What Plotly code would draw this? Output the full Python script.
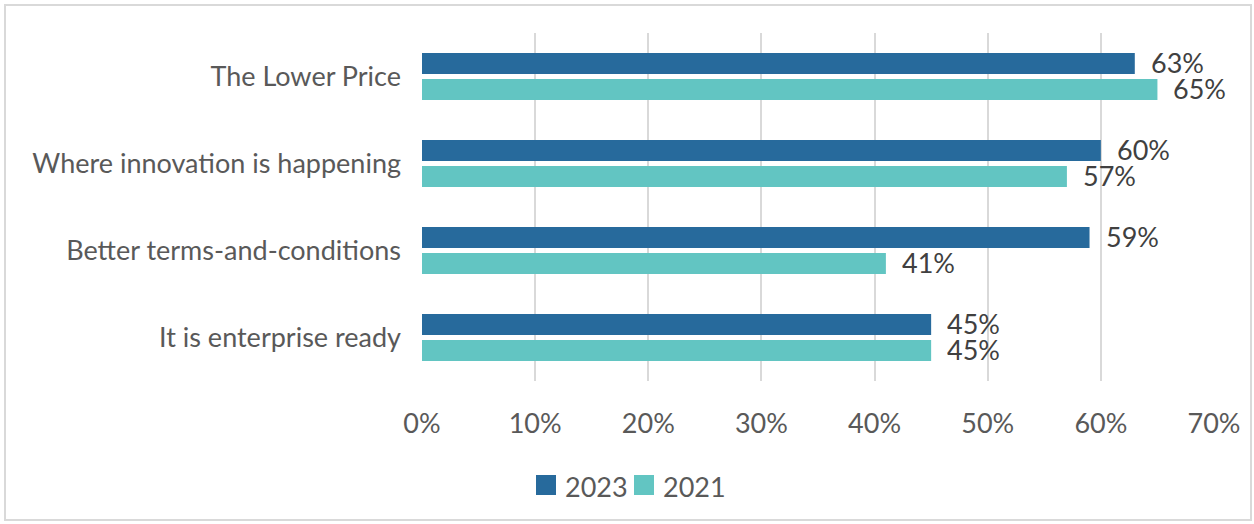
import plotly.graph_objects as go

categories = [
    "The Lower Price",
    "Where innovation is happening",
    "Better terms-and-conditions",
    "It is enterprise ready",
]
values_2023 = [63, 60, 59, 45]
values_2021 = [65, 57, 41, 45]
x_ticks = [0, 10, 20, 30, 40, 50, 60, 70]
series = [("2023", values_2023), ("2021", values_2021)]

BLUE = "#276a9c"
TEAL = "#62c5c2"
TEXT = "#595959"
LABEL = "#404040"
GRID = "#d9d9d9"
FONT = "Lato, 'Open Sans', sans-serif"
FS = 27

W, H = 1254, 524
L, R, T, B = 422, 40, 33, 143
pw = W - L - R
ph = H - T - B


def px_x(px):
    return (px - L) / pw


def px_y(py):
    return (T + ph - py) / ph


colors = {"2023": BLUE, "2021": TEAL}

fig = go.Figure()
for name, vals in series:
    fig.add_trace(go.Bar(
        name=name,
        y=categories,
        x=vals,
        orientation="h",
        marker=dict(color=colors[name], line=dict(width=0)),
        showlegend=False,
    ))

# value labels beside each bar
for i, (name, vals) in enumerate(series):
    for cat, v in zip(categories, vals):
        fig.add_annotation(
            x=v, y=cat, xref="x", yref="y",
            text=f"{v}%",
            showarrow=False,
            xanchor="left", yanchor="middle",
            height=25, valign="middle",
            borderpad=0,
            xshift=15,
            yshift=14 if i == 0 else -12,
            font=dict(size=FS, color=LABEL, family=FONT),
        )

fig.update_layout(
    width=W,
    height=H,
    margin=dict(l=L, r=R, t=T, b=B),
    barmode="group",
    bargap=0.40,
    bargroupgap=0.19,
    paper_bgcolor="white",
    plot_bgcolor="white",
    font=dict(family=FONT, color=TEXT, size=FS),
    xaxis=dict(
        range=[0, 70],
        tickvals=x_ticks,
        ticktext=[f"{t}%" for t in x_ticks],
        showgrid=True,
        gridcolor=GRID,
        gridwidth=2,
        zeroline=False,
        showline=False,
        ticks="",
        ticklabelstandoff=24,
        tickfont=dict(size=FS, color=TEXT),
        fixedrange=True,
    ),
    yaxis=dict(
        categoryorder="array",
        categoryarray=categories,
        autorange="reversed",
        showgrid=False,
        zeroline=False,
        showline=False,
        ticks="",
        ticklabelstandoff=20,
        tickfont=dict(size=FS, color=TEXT),
        fixedrange=True,
    ),
    showlegend=False,
)

# legend: colour squares with year labels
legend_items = [("2023", 536, 564), ("2021", 634, 662)]
for name, sq_x, tx_x in legend_items:
    fig.add_shape(
        type="rect", xref="paper", yref="paper",
        x0=px_x(sq_x), x1=px_x(sq_x + 20),
        y0=px_y(495), y1=px_y(475),
        line=dict(width=0), fillcolor=colors[name],
    )
    fig.add_annotation(
        x=px_x(tx_x), y=px_y(486), xref="paper", yref="paper",
        text=name, showarrow=False,
        xanchor="left", yanchor="middle",
        borderpad=0,
        font=dict(size=FS, color=TEXT, family=FONT),
    )

# light frame around the chart
fig.add_shape(
    type="rect",
    xref="paper", yref="paper",
    x0=px_x(5), x1=px_x(1251),
    y0=px_y(520), y1=px_y(5),
    line=dict(color=GRID, width=2),
    fillcolor="rgba(0,0,0,0)",
    layer="below",
)

fig.write_html("out.html")
